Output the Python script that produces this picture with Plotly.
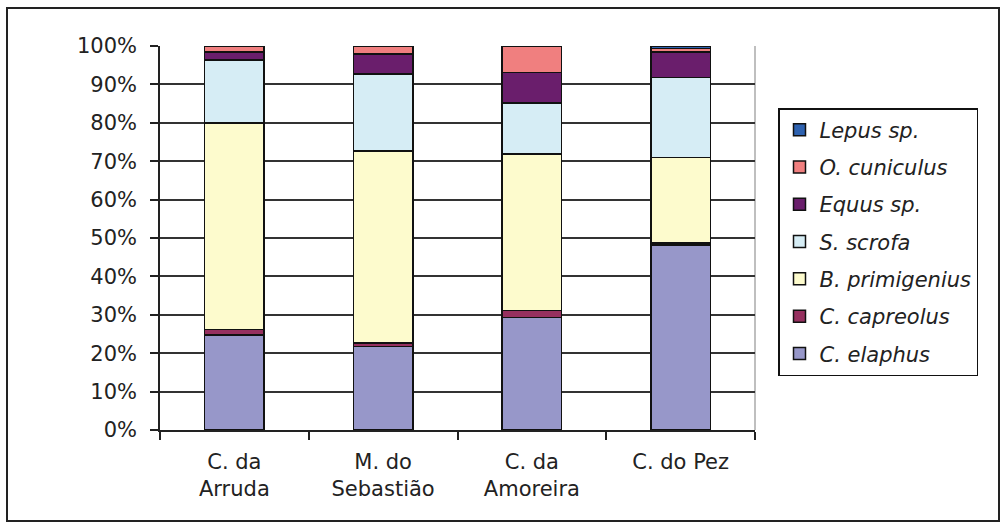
import plotly.graph_objects as go

sites = ["C. da<br>Arruda", "M. do<br>Sebastião", "C. da<br>Amoreira", "C. do Pez"]

c_elaphus = [24.7, 21.7, 29.3, 48.2]
c_capreolus = [1.5, 1.0, 1.8, 0.5]
b_primigenius = [53.8, 50.0, 40.8, 22.3]
s_scrofa = [16.4, 20.0, 13.2, 20.8]
equus_sp = [2.1, 5.2, 8.0, 6.6]
o_cuniculus = [1.5, 2.1, 6.9, 0.9]
lepus_sp = [0.0, 0.0, 0.0, 0.7]

series = [
    ("<i>C. elaphus</i>", c_elaphus, "#9797C9"),
    ("<i>C. capreolus</i>", c_capreolus, "#96305F"),
    ("<i>B. primigenius</i>", b_primigenius, "#FDFBCD"),
    ("<i>S. scrofa</i>", s_scrofa, "#D6EDF5"),
    ("<i>Equus sp.</i>", equus_sp, "#6A1E6C"),
    ("<i>O. cuniculus</i>", o_cuniculus, "#F07F7F"),
    ("<i>Lepus sp.</i>", lepus_sp, "#2E62B0"),
]

fig = go.Figure()
n = len(series)
for i, (name, vals, col) in enumerate(series):
    fig.add_trace(go.Bar(
        x=sites, y=vals, name=name, legendgroup=f"g{i}",
        legendrank=n - i,
        marker=dict(color=col, line=dict(color="#111111", width=1.5)),
    ))

L, R, T, B = 160, 248, 46, 97
W, H = 1003, 527
pw, ph = W - L - R, H - T - B

def px_x(x):
    return (x - L) / pw

def px_y(y):
    return (H - B - y) / ph

FONT = "DejaVu Sans, Arial, sans-serif"

fig.update_layout(
    width=W, height=H,
    barmode="stack", bargap=0.6,
    margin=dict(l=L, r=R, t=T, b=B),
    paper_bgcolor="white", plot_bgcolor="white",
    font=dict(family=FONT, size=21, color="#222222"),
    legend=dict(
        traceorder="grouped", tracegroupgap=7,
        x=px_x(778), y=px_y(108), xanchor="left", yanchor="top",
        bordercolor="#111111", borderwidth=1.5,
        font=dict(size=21, color="#222222"),
        itemwidth=30,
        bgcolor="white",
    ),
    xaxis=dict(
        showline=True, linecolor="#222222", linewidth=1.5,
        ticks="outside", ticklen=8, tickcolor="#222222", tickwidth=1.5,
        tickson="boundaries", showgrid=False,
        tickfont=dict(size=21), ticklabelstandoff=12,
    ),
    yaxis=dict(
        range=[0, 100], dtick=10, ticksuffix="%",
        showline=True, linecolor="#222222", linewidth=1.5,
        ticks="outside", ticklen=8, tickcolor="#222222", tickwidth=1.5,
        showgrid=True, gridcolor="#333333", gridwidth=1.5,
        zeroline=False, ticklabelstandoff=9,
        tickfont=dict(size=21),
    ),
    shapes=[
        dict(type="rect", xref="paper", yref="paper",
             x0=px_x(7), x1=px_x(999), y0=px_y(521), y1=px_y(8),
             line=dict(color="#222222", width=2), layer="below"),
        dict(type="line", xref="paper", yref="paper",
             x0=1, x1=1, y0=0, y1=1,
             line=dict(color="#AAAAAA", width=1.5), layer="below"),
    ],
)

fig.write_html("out.html", config={"displayModeBar": False},
               post_script="document.body.style.margin='0';")
